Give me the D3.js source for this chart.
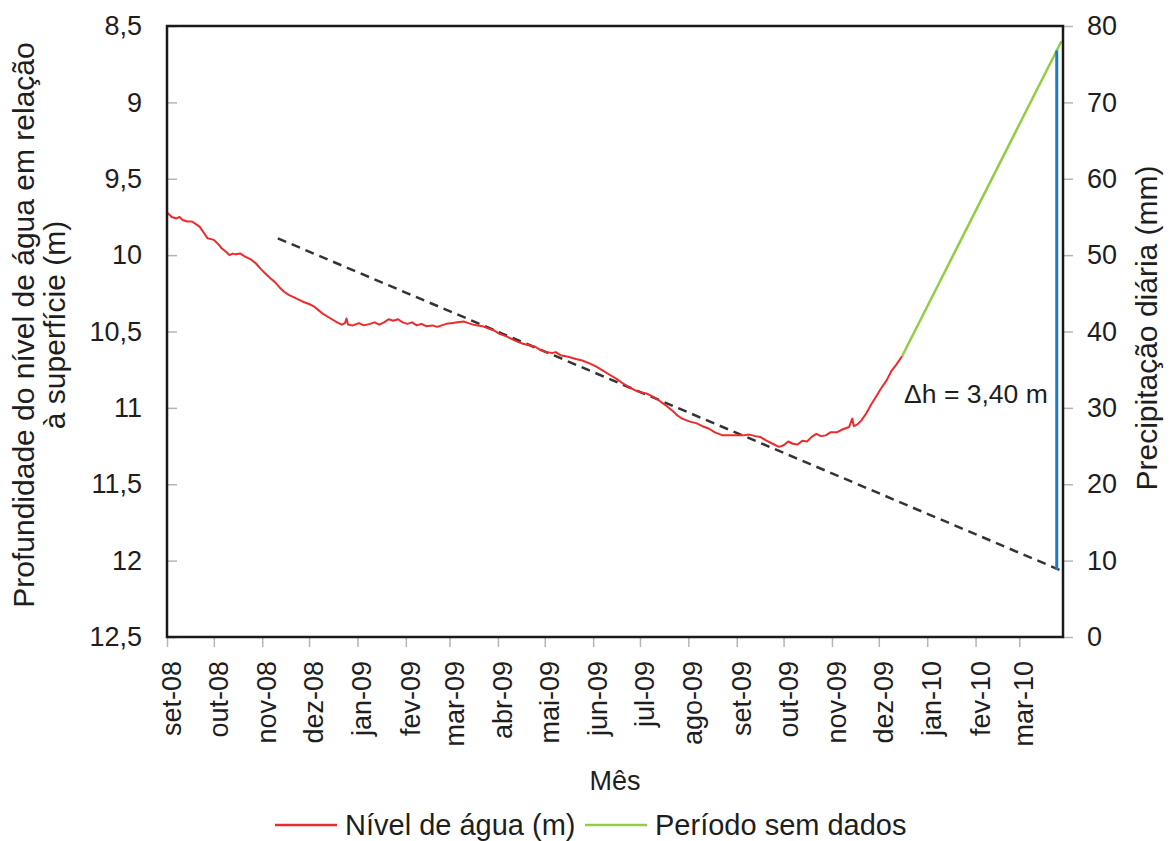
<!DOCTYPE html>
<html>
<head>
<meta charset="utf-8">
<script src="https://cdn.jsdelivr.net/npm/d3@7"></script>
<style>
  body { margin: 0; background: #fff; }
  text { font-family: "Liberation Sans", Arial, sans-serif; fill: #1e1e1e; }
</style>
</head>
<body>
<div id="chart"></div>
<script>
// month tick labels (pt-BR)
const monthLabels = ['set-08', 'out-08', 'nov-08', 'dez-08', 'jan-09', 'fev-09', 'mar-09', 'abr-09', 'mai-09',
    'jun-09', 'jul-09', 'ago-09', 'set-09', 'out-09', 'nov-09', 'dez-09', 'jan-10', 'fev-10', 'mar-10'];
const leftTicks = [8.5, 9, 9.5, 10, 10.5, 11, 11.5, 12, 12.5];
const rightTicks = [0, 10, 20, 30, 40, 50, 60, 70, 80];
const xDomain = ['2008-09-01', '2010-03-29'];

// water level (m below surface)
const nivelData = [
    ['2008-09-01', 9.72], ['2008-09-04', 9.75], ['2008-09-07', 9.76], ['2008-09-09', 9.75], ['2008-09-11', 9.77],
    ['2008-09-14', 9.78], ['2008-09-17', 9.78], ['2008-09-20', 9.80], ['2008-09-22', 9.815], ['2008-09-25', 9.86],
    ['2008-09-27', 9.89], ['2008-10-01', 9.90], ['2008-10-04', 9.93], ['2008-10-06', 9.955], ['2008-10-09', 9.98],
    ['2008-10-11', 10.00], ['2008-10-13', 9.99], ['2008-10-15', 9.995], ['2008-10-18', 9.99], ['2008-10-21', 10.01],
    ['2008-10-25', 10.03], ['2008-10-28', 10.055], ['2008-10-31', 10.09], ['2008-11-03', 10.12], ['2008-11-06', 10.15],
    ['2008-11-09', 10.175], ['2008-11-12', 10.21], ['2008-11-15', 10.24], ['2008-11-18', 10.26], ['2008-11-21', 10.275],
    ['2008-11-24', 10.29], ['2008-11-27', 10.305], ['2008-12-01', 10.32], ['2008-12-04', 10.335], ['2008-12-07', 10.36],
    ['2008-12-10', 10.385], ['2008-12-14', 10.41], ['2008-12-19', 10.44], ['2008-12-22', 10.455], ['2008-12-24', 10.445],
    ['2008-12-25', 10.415], ['2008-12-26', 10.455], ['2008-12-29', 10.46], ['2009-01-02', 10.445], ['2009-01-05', 10.46],
    ['2009-01-09', 10.45], ['2009-01-12', 10.44], ['2009-01-15', 10.455], ['2009-01-18', 10.44], ['2009-01-21', 10.42],
    ['2009-01-24', 10.43], ['2009-01-27', 10.42], ['2009-01-30', 10.44], ['2009-02-02', 10.45], ['2009-02-05', 10.44],
    ['2009-02-08', 10.46], ['2009-02-11', 10.45], ['2009-02-14', 10.465], ['2009-02-18', 10.46], ['2009-02-21', 10.47],
    ['2009-02-24', 10.46], ['2009-02-27', 10.45], ['2009-03-03', 10.445], ['2009-03-06', 10.44], ['2009-03-10', 10.435],
    ['2009-03-13', 10.445], ['2009-03-16', 10.455], ['2009-03-19', 10.46], ['2009-03-22', 10.465], ['2009-03-26', 10.48],
    ['2009-03-29', 10.49], ['2009-04-02', 10.515], ['2009-04-06', 10.53], ['2009-04-10', 10.55], ['2009-04-13', 10.565],
    ['2009-04-17', 10.58], ['2009-04-21', 10.59], ['2009-04-25', 10.60], ['2009-04-28', 10.62], ['2009-05-02', 10.635],
    ['2009-05-06', 10.64], ['2009-05-08', 10.635], ['2009-05-11', 10.655], ['2009-05-16', 10.665], ['2009-05-21', 10.68],
    ['2009-05-25', 10.69], ['2009-05-30', 10.71], ['2009-06-03', 10.73], ['2009-06-07', 10.755], ['2009-06-11', 10.78],
    ['2009-06-16', 10.81], ['2009-06-20', 10.84], ['2009-06-24', 10.865], ['2009-06-29', 10.89], ['2009-07-02', 10.90],
    ['2009-07-05', 10.905], ['2009-07-09', 10.925], ['2009-07-13', 10.95], ['2009-07-17', 10.98], ['2009-07-22', 11.02],
    ['2009-07-25', 11.05], ['2009-07-28', 11.07], ['2009-08-02', 11.09], ['2009-08-06', 11.10], ['2009-08-10', 11.12],
    ['2009-08-14', 11.135], ['2009-08-18', 11.16], ['2009-08-23', 11.18], ['2009-08-27', 11.18], ['2009-09-01', 11.18],
    ['2009-09-05', 11.18], ['2009-09-09', 11.175], ['2009-09-13', 11.185], ['2009-09-16', 11.19], ['2009-09-20', 11.215],
    ['2009-09-24', 11.235], ['2009-09-28', 11.255], ['2009-10-01', 11.245], ['2009-10-04', 11.22], ['2009-10-07', 11.235],
    ['2009-10-10', 11.24], ['2009-10-13', 11.215], ['2009-10-16', 11.22], ['2009-10-19', 11.19], ['2009-10-22', 11.17],
    ['2009-10-25', 11.185], ['2009-10-28', 11.18], ['2009-10-31', 11.16], ['2009-11-04', 11.16], ['2009-11-08', 11.14],
    ['2009-11-12', 11.125], ['2009-11-14', 11.07], ['2009-11-15', 11.12], ['2009-11-17', 11.11], ['2009-11-20', 11.08],
    ['2009-11-23', 11.035], ['2009-11-26', 10.98], ['2009-11-29', 10.93], ['2009-12-02', 10.88], ['2009-12-06', 10.82],
    ['2009-12-09', 10.76], ['2009-12-12', 10.72], ['2009-12-16', 10.66]
];
// period without data
const semDadosData = [['2009-12-16', 10.66], ['2010-03-28', 8.60]];
// trend (dashed)
const tendenciaData = [['2008-11-11', 9.89], ['2010-03-29', 12.07]];
// delta h marker
const deltaData = [['2010-03-25', 8.66], ['2010-03-25', 12.06]];
const deltaLabel = 'Δh = 3,40 m';

const W = 1170, H = 841;
const margin = { top: 26, right: 107, bottom: 204, left: 167 };
const width = W - margin.left - margin.right;
const height = H - margin.top - margin.bottom;

const parseDate = d3.utcParse('%Y-%m-%d');

const svg = d3.select('#chart')
    .append('svg')
    .attr('width', W)
    .attr('height', H);

const g = svg.append('g')
    .attr('transform', `translate(${margin.left},${margin.top})`);

// scales
const x = d3.scaleUtc()
    .domain(xDomain.map(parseDate))
    .range([0, width]);
const yLeft = d3.scaleLinear().domain([8.5, 12.5]).range([0, height]);
const yRight = d3.scaleLinear().domain([0, 80]).range([height, 0]);

const monthDates = d3.utcMonth.range(parseDate('2008-09-01'), parseDate('2010-03-02'));
const fmtComma = d => String(d).replace('.', ',');

// axes
const xAxis = d3.axisBottom(x)
    .tickValues(monthDates)
    .tickFormat((d, i) => monthLabels[i])
    .tickSize(10);
const xg = g.append('g')
    .attr('transform', `translate(0,${height})`)
    .call(xAxis);
xg.selectAll('text')
    .attr('transform', 'rotate(-90)')
    .attr('x', -24)
    .attr('y', 0)
    .attr('dy', '0.5em')
    .style('text-anchor', 'end')
    .style('font-size', '27px');

const yAxisL = d3.axisLeft(yLeft)
    .tickValues(leftTicks)
    .tickFormat(fmtComma)
    .tickSize(-10)
    .tickPadding(25);
const ylg = g.append('g').call(yAxisL);
ylg.selectAll('text').style('font-size', '27px');

const yAxisR = d3.axisRight(yRight)
    .tickValues(rightTicks)
    .tickSize(10)
    .tickPadding(14);
const yrg = g.append('g')
    .attr('transform', `translate(${width},0)`)
    .call(yAxisR);
yrg.selectAll('text').style('font-size', '27px');

[xg, ylg, yrg].forEach(a => {
    a.select('.domain').remove();
    a.selectAll('.tick line').attr('stroke', '#b5b5b5').attr('stroke-width', 1.5);
});

// lines
const line = d3.line()
    .x(d => x(parseDate(d[0])))
    .y(d => yLeft(d[1]));

g.append('path')
    .datum(tendenciaData)
    .attr('d', line)
    .attr('fill', 'none')
    .attr('stroke', '#333')
    .attr('stroke-width', 2.5)
    .attr('stroke-dasharray', '9,6');

g.append('path')
    .datum(nivelData)
    .attr('d', line)
    .attr('fill', 'none')
    .attr('stroke', '#ee2a2a')
    .attr('stroke-width', 2)
    .attr('stroke-linejoin', 'round');

g.append('path')
    .datum(semDadosData)
    .attr('d', line)
    .attr('fill', 'none')
    .attr('stroke', '#92cd45')
    .attr('stroke-width', 2.5);

g.append('path')
    .datum(deltaData)
    .attr('d', line)
    .attr('fill', 'none')
    .attr('stroke', '#1a7ac8')
    .attr('stroke-width', 3);

g.append('text')
    .attr('x', x(parseDate(deltaData[0][0])) - 9)
    .attr('y', 377)
    .attr('text-anchor', 'end')
    .style('font-size', '26.5px')
    .text(deltaLabel);

// plot frame
g.append('rect')
    .attr('width', width)
    .attr('height', height)
    .attr('fill', 'none')
    .attr('stroke', '#1a1a1a')
    .attr('stroke-width', 2.5);

// axis titles
const leftTitle = svg.append('text')
    .attr('transform', 'translate(34,325) rotate(-90)')
    .attr('text-anchor', 'middle')
    .style('font-size', '30px');
leftTitle.append('tspan').attr('x', 0).attr('y', 0).text('Profundidade do nível de água em relação');
leftTitle.append('tspan').attr('x', 0).attr('y', 31).text('à superfície (m)');

svg.append('text')
    .attr('transform', 'translate(1157,328) rotate(-90)')
    .attr('text-anchor', 'middle')
    .style('font-size', '30px')
    .text('Precipitação diária (mm)');

svg.append('text')
    .attr('x', margin.left + width / 2)
    .attr('y', 790)
    .attr('text-anchor', 'middle')
    .style('font-size', '27px')
    .text('Mês');

// legend
const legendItems = [
    { label: 'Nível de água (m)', color: '#ee2a2a', x: 275 },
    { label: 'Período sem dados', color: '#92cd45', x: 585 }
];
const legend = svg.append('g').attr('transform', 'translate(0,825)');
legendItems.forEach(item => {
    legend.append('line')
        .attr('x1', item.x).attr('x2', item.x + 62)
        .attr('y1', 0).attr('y2', 0)
        .attr('stroke', item.color)
        .attr('stroke-width', 2.5);
    legend.append('text')
        .attr('x', item.x + 70)
        .attr('y', 10)
        .style('font-size', '29px')
        .text(item.label);
});
</script>
</body>
</html>
